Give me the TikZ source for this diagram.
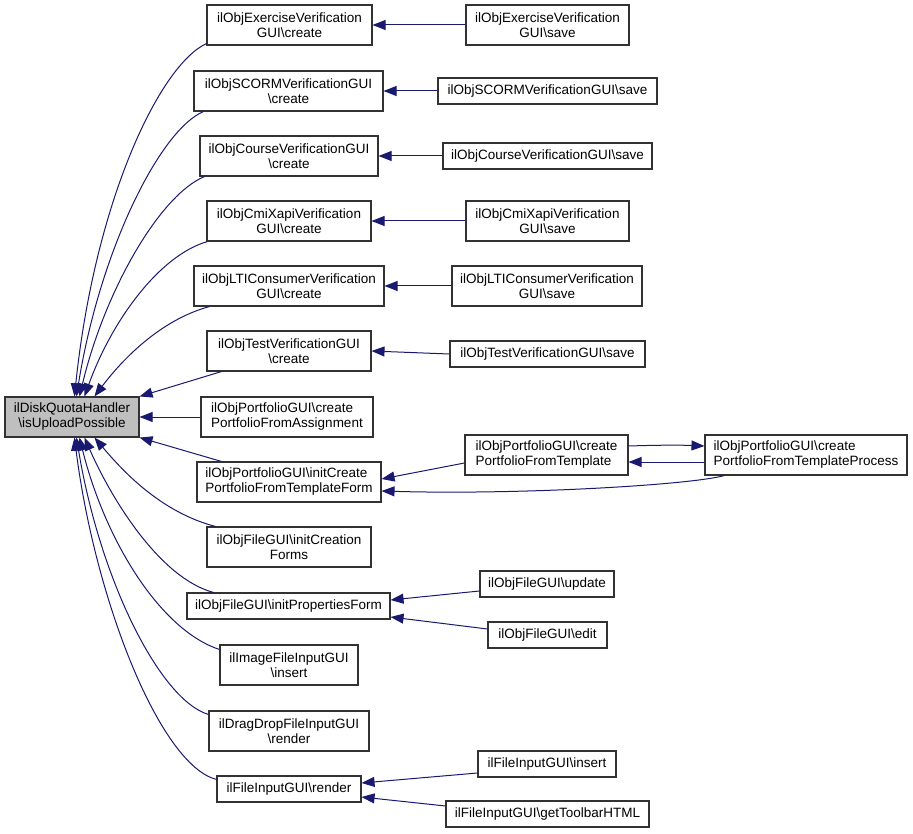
\documentclass[tikz,border=0pt]{standalone}
\usepackage{fontspec}
\setmainfont{Liberation Sans}
\usetikzlibrary{arrows.meta}
\definecolor{edgeblue}{RGB}{25,25,112}
\definecolor{rootgray}{RGB}{191,191,191}
\definecolor{boxline}{RGB}{50,50,50}
\tikzset{
  box/.style={draw=boxline, line width=1.1pt, fill=white, inner sep=0pt, align=center, rectangle,
    font=\fontsize{13.5}{15}\selectfont},
  lbox/.style={box, align=left},
  rootbox/.style={box, fill=rootgray},
  edge/.style={draw=edgeblue, line width=1pt, -{Triangle[length=13pt,width=10pt]}},
}
\begin{document}
\begin{tikzpicture}[x=1pt,y=-1pt]
\useasboundingbox (0,0) rectangle (913,834);
% root
\node[rootbox, minimum width=134pt, minimum height=40pt] (root) at (72,417) {ilDiskQuotaHandler\\\textbackslash isUploadPossible};
% column 2
\node[box, minimum width=165pt, minimum height=40pt] (c1) at (289.5,25) {ilObjExerciseVerification\\GUI\textbackslash create};
\node[box, minimum width=189pt, minimum height=40pt] (c2) at (288.5,91) {ilObjSCORMVerificationGUI\\\textbackslash create};
\node[box, minimum width=178pt, minimum height=40pt] (c3) at (289,156) {ilObjCourseVerificationGUI\\\textbackslash create};
\node[box, minimum width=164pt, minimum height=40pt] (c4) at (289,221) {ilObjCmiXapiVerification\\GUI\textbackslash create};
\node[box, minimum width=190pt, minimum height=40pt] (c5) at (289,286) {ilObjLTIConsumerVerification\\GUI\textbackslash create};
\node[box, minimum width=164pt, minimum height=40pt] (c6) at (289,351) {ilObjTestVerificationGUI\\\textbackslash create};
\node[lbox, minimum width=172pt, minimum height=40pt] (c7) at (287,417) {ilObjPortfolioGUI\textbackslash create\\PortfolioFromAssignment};
\node[lbox, minimum width=184pt, minimum height=40pt] (c8) at (289,482) {ilObjPortfolioGUI\textbackslash initCreate\\PortfolioFromTemplateForm};
\node[box, minimum width=164pt, minimum height=40pt] (c9) at (289,547) {ilObjFileGUI\textbackslash initCreation\\Forms};
\node[box, minimum width=203pt, minimum height=26pt] (c10) at (288.5,606) {ilObjFileGUI\textbackslash initPropertiesForm};
\node[box, minimum width=138pt, minimum height=40pt] (c11) at (289,665) {ilImageFileInputGUI\\\textbackslash insert};
\node[box, minimum width=160pt, minimum height=40pt] (c12) at (289,731) {ilDragDropFileInputGUI\\\textbackslash render};
\node[box, minimum width=144pt, minimum height=26pt] (c13) at (289,789) {ilFileInputGUI\textbackslash render};
% column 3
\node[box, minimum width=163pt, minimum height=40pt] (d1) at (547.5,25) {ilObjExerciseVerification\\GUI\textbackslash save};
\node[box, minimum width=219pt, minimum height=26pt] (d2) at (547.5,91) {ilObjSCORMVerificationGUI\textbackslash save};
\node[box, minimum width=209pt, minimum height=26pt] (d3) at (547.5,156) {ilObjCourseVerificationGUI\textbackslash save};
\node[box, minimum width=163pt, minimum height=40pt] (d4) at (547.5,221) {ilObjCmiXapiVerification\\GUI\textbackslash save};
\node[box, minimum width=190pt, minimum height=40pt] (d5) at (547,286) {ilObjLTIConsumerVerification\\GUI\textbackslash save};
\node[box, minimum width=195pt, minimum height=26pt] (d6) at (547.5,354) {ilObjTestVerificationGUI\textbackslash save};
\node[lbox, minimum width=163pt, minimum height=40pt] (d7) at (546.5,455) {ilObjPortfolioGUI\textbackslash create\\PortfolioFromTemplate};
\node[box, minimum width=134pt, minimum height=26pt] (d8) at (547,584) {ilObjFileGUI\textbackslash update};
\node[box, minimum width=119pt, minimum height=26pt] (d9) at (547.5,635) {ilObjFileGUI\textbackslash edit};
\node[box, minimum width=138pt, minimum height=26pt] (d10) at (547,764) {ilFileInputGUI\textbackslash insert};
\node[box, minimum width=203pt, minimum height=26pt] (d11) at (547.5,814) {ilFileInputGUI\textbackslash getToolbarHTML};
% column 4
\node[lbox, minimum width=202pt, minimum height=40pt] (e1) at (806,455) {ilObjPortfolioGUI\textbackslash create\\PortfolioFromTemplateProcess};

% edges into root (top)
\draw[edge] ([yshift=2pt]c1.south west) .. controls (160,65) and (95,200) .. ([xshift=70pt]root.north west);
\draw[edge] ([xshift=10pt]c2.south west) .. controls (160,130) and (100,250) .. ([xshift=72pt]root.north west);
\draw[edge] ([xshift=5pt]c3.south west) .. controls (160,195) and (105,290) .. ([xshift=75pt]root.north west);
\draw[edge] ([xshift=1pt]c4.south west) .. controls (160,255) and (112,320) .. ([xshift=80pt]root.north west);
\draw[edge] ([xshift=16pt]c5.south west) .. controls (160,320) and (122,360) .. ([xshift=90pt]root.north west);
\draw[edge] ([xshift=15pt]c6.south west) -- (root.north east);
\draw[edge] (c7.west) -- (root.east);
% edges into root (bottom)
\draw[edge] ([xshift=25pt]c8.north west) -- (root.south east);
\draw[edge] ([xshift=9pt]c9.north west) .. controls (160,512) and (122,470) .. ([xshift=90pt]root.south west);
\draw[edge] ([xshift=27pt]c10.north west) .. controls (160,578) and (112,500) .. ([xshift=80pt]root.south west);
\draw[edge] ([yshift=-5pt]c11.north west) .. controls (160,630) and (105,540) .. ([xshift=75pt]root.south west);
\draw[edge] ([yshift=-4pt]c12.north west) .. controls (160,700) and (100,580) .. ([xshift=72pt]root.south west);
\draw[edge] ([yshift=-4pt]c13.north west) .. controls (160,765) and (95,600) .. ([xshift=70pt]root.south west);
% column 3 -> column 2
\draw[edge] (d1.west) -- (c1.east);
\draw[edge] (d2.west) -- (c2.east);
\draw[edge] (d3.west) -- (c3.east);
\draw[edge] (d4.west) -- (c4.east);
\draw[edge] (d5.west) -- (c5.east);
\draw[edge] (d6.west) -- (c6.east);
\draw[edge] ([yshift=-8pt]d7.west) -- ([yshift=3pt]c8.east);
\draw[edge] ([xshift=20pt]e1.south west) .. controls (690,485) and (520,495) .. ([yshift=-9pt]c8.east);
\draw[edge] ([yshift=9pt]d7.east) .. controls (660,445) and (680,445) .. ([yshift=9pt]e1.west);
\draw[edge] ([yshift=-7pt]e1.west) -- ([yshift=-7pt]d7.east);
\draw[edge] ([yshift=-7pt]d8.west) -- ([yshift=6pt]c10.east);
\draw[edge] ([yshift=6pt]d9.west) -- ([yshift=-11pt]c10.east);
\draw[edge] ([yshift=-9pt]d10.west) -- ([yshift=6pt]c13.east);
\draw[edge] ([yshift=8pt]d11.west) -- ([yshift=-8pt]c13.east);
\end{tikzpicture}
\end{document}
